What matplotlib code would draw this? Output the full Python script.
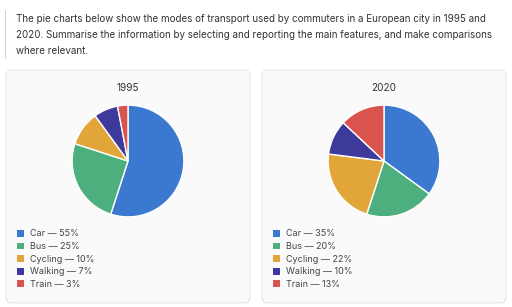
import matplotlib.pyplot as plt
from matplotlib.patches import FancyBboxPatch, Rectangle

plt.rcParams['font.family'] = ['Inter', 'DejaVu Sans']

# data
modes = ['Car', 'Bus', 'Cycling', 'Walking', 'Train']
share_1995 = [55, 25, 10, 7, 3]
share_2020 = [35, 20, 22, 10, 13]
years = ['1995', '2020']
colors = ['#3b78d0', '#4caf7d', '#e2a53a', '#3e3a9c', '#d9534f']

intro = ("The pie charts below show the modes of transport used by commuters in a European city in 1995 and\n"
         "2020. Summarise the information by selecting and reporting the main features, and make comparisons\n"
         "where relevant.")

W, H = 512, 307
fig = plt.figure(figsize=(W / 100, H / 100), dpi=100)
fig.patch.set_facecolor('white')

# background axes in pixel coordinates (y goes down)
bg = fig.add_axes([0, 0, 1, 1])
bg.set_xlim(0, W)
bg.set_ylim(H, 0)
bg.axis('off')

# quote bar + intro text
bg.add_patch(Rectangle((4.5, 10), 1.5, 49, color='#c9d3e0', lw=0))
bg.text(16, 14, intro, fontsize=7.05, color='#333333', va='top', ha='left', linespacing=1.78)

panels = [(6, 70), (262, 70)]
pw, ph = 244, 233

for (px, py), year, values in zip(panels, years, [share_1995, share_2020]):
    bg.add_patch(FancyBboxPatch((px, py), pw, ph, boxstyle='round,pad=0,rounding_size=6',
                                facecolor='#fafafa', edgecolor='#e6e6e6', lw=0.8))
    cx = px + 122
    bg.text(cx, 88, year, fontsize=7.2, color='#333333', ha='center', va='center')

    r = 57
    ax = fig.add_axes([(cx - r) / W, (H - 161 - r) / H, 2 * r / W, 2 * r / H])
    wedges, _ = ax.pie(values, colors=colors, startangle=90, counterclock=False,
                       wedgeprops=dict(edgecolor='white', linewidth=1.0))
    ax.set_xlim(-1.02, 1.02)
    ax.set_ylim(-1.02, 1.02)

    # legend swatches without the white wedge border
    handles = [Rectangle((0, 0), 1, 1, facecolor=w.get_facecolor(), lw=0) for w in wedges]
    labels = [f'{m} \u2014 {v}%' for m, v in zip(modes, values)]
    leg = ax.legend(handles, labels, loc='upper left',
                    bbox_to_anchor=((px + 11) / W, (H - 229.5) / H),
                    bbox_transform=fig.transFigure,
                    frameon=False, fontsize=6.5, handlelength=0.8, handleheight=0.8,
                    handletextpad=0.6, labelspacing=0.4, borderaxespad=0, borderpad=0)
    for t in leg.get_texts():
        t.set_color('#444444')

fig.savefig('out.png', dpi=100)
